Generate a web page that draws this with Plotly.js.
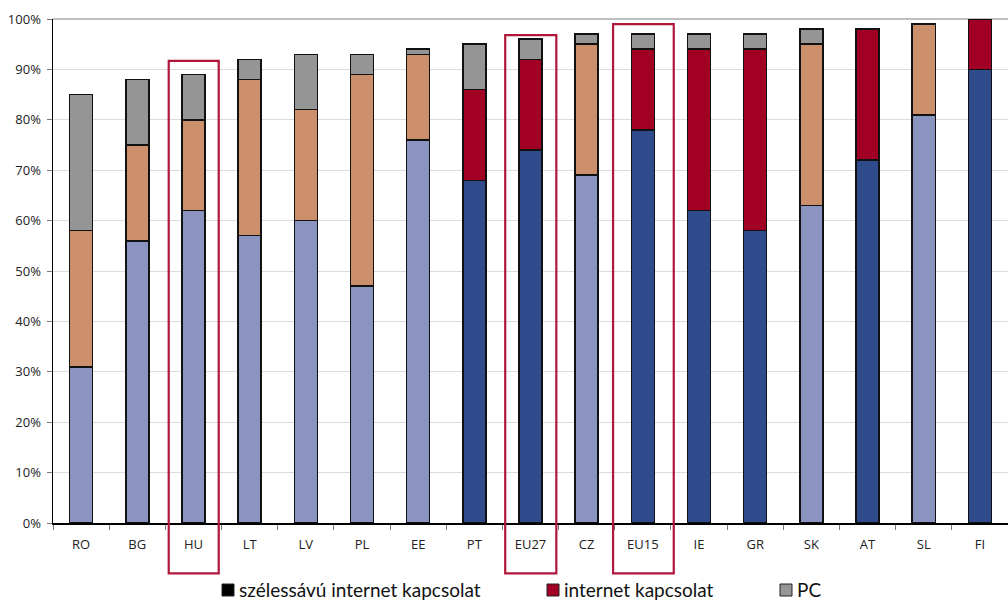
<!DOCTYPE html>
<html><head><meta charset="utf-8">
<script src="https://cdn.plot.ly/plotly-3.0.1.min.js"></script>
<style>html,body{margin:0;padding:0;overflow:hidden;background:#fff}</style>
</head><body><div id="chart" style="width:1008px;height:600px"></div>
<script>
const countries = ['RO','BG','HU','LT','LV','PL','EE','PT','EU27','CZ','EU15','IE','GR','SK','AT','SL','FI'];
// cumulative shares (%)
const broadband = [31,56,62,57,60,47,76,68,74,69,78,62,58,63,72,81,90];
const internet  = [58,75,80,88,82,89,93,86,92,95,94,94,94,95,98,99,100];
const pc        = [85,88,89,92,93,93,94,95,96,97,97,97,97,98,98,99,100];
const oldMember = [0,0,0,0,0,0,0,1,1,0,1,1,1,0,1,0,1];
const highlighted = ['HU','EU27','EU15'];
const legendNames = ['szélessávú internet kapcsolat','internet kapcsolat','PC'];

const seg1 = broadband;
const seg2 = internet.map((v,i)=>v-broadband[i]);
const seg3 = pc.map((v,i)=>v-internet[i]);

const cBroadNew='#8b94c0', cBroadOld='#2f4b8b', cNetNew='#cc8f6c', cNetOld='#a10024', cPC='#959595';
const line={color:'#111',width:1.5};
const common={type:'bar',x:countries,width:0.41,showlegend:false,hoverinfo:'x+y'};
const traces=[
 Object.assign({},common,{y:seg1,name:legendNames[0],marker:{color:oldMember.map(o=>o?cBroadOld:cBroadNew),line}}),
 Object.assign({},common,{y:seg2,name:legendNames[1],marker:{color:oldMember.map(o=>o?cNetOld:cNetNew),line}}),
 Object.assign({},common,{y:seg3,name:legendNames[2],marker:{color:oldMember.map(()=>cPC),line}})
];

const boxes={HU:[-0.44,0.45,0.917],EU27:[-0.45,0.46,0.968],EU15:[-0.53,0.55,0.99]};
const shapes=highlighted.map(c=>{
  const i=countries.indexOf(c), b=boxes[c];
  return {type:'rect',xref:'x',yref:'paper',x0:i+b[0],x1:i+b[1],y0:-0.1,y1:b[2],
    line:{color:'#b0173a',width:2.2},fillcolor:'rgba(0,0,0,0)',layer:'above'};
});
// legend swatches (manual)
const legX=[222,547,780], legCol=['#000','#a10024','#959595'];
const W=1008,H=600,L=53,T=19,B=77,R=0;
const pw=W-L-R, ph=H-T-B;
const px=x=>(x-L)/pw, py=y=>(H-B-y)/ph;
legX.forEach((x,k)=>{
  shapes.push({type:'rect',xref:'paper',yref:'paper',x0:px(x),x1:px(x+12),y0:py(596),y1:py(584),
   fillcolor:legCol[k],line:{color:'#222',width:1}});
});
const annotations=legX.map((x,k)=>({xref:'paper',yref:'paper',x:px(x+15),y:py(589),xanchor:'left',yanchor:'middle',
  text:legendNames[k],showarrow:false,font:{family:'Lato, Open Sans, sans-serif',size:19,color:'#111'}}));

const layout={
 width:W,height:H,barmode:'stack',bargap:0.59,
 margin:{l:L,r:R,t:T,b:B,pad:0},
 paper_bgcolor:'#fff',plot_bgcolor:'#fff',
 font:{family:'Open Sans, Noto Sans, sans-serif',size:13,color:'#222'},
 xaxis:{type:'category',range:[-0.5,16.5],showgrid:false,ticks:'outside',tickson:'boundaries',ticklen:5,
   tickcolor:'#777',showline:true,linecolor:'#000',linewidth:1.5,tickfont:{size:13,color:'#222'},
   ticklabelstandoff:9,fixedrange:true},
 yaxis:{range:[0,100],dtick:10,ticksuffix:'%',showgrid:true,gridcolor:'#dcdcdc',gridwidth:1,
   showline:true,linecolor:'#000',linewidth:1.5,ticks:'outside',ticklen:5,tickcolor:'#777',
   zeroline:true,zerolinecolor:'#000',zerolinewidth:1,tickfont:{size:13,color:'#222'},
   ticklabelstandoff:3,fixedrange:true},
 shapes:shapes.concat([{type:'line',xref:'paper',yref:'paper',x0:0,x1:1,y0:1,y1:1,line:{color:'#aaa',width:1.5},layer:'below'}]),
 annotations:annotations,showlegend:false
};
Plotly.newPlot('chart',traces,layout,{displayModeBar:false,staticPlot:true});
</script></body></html>
